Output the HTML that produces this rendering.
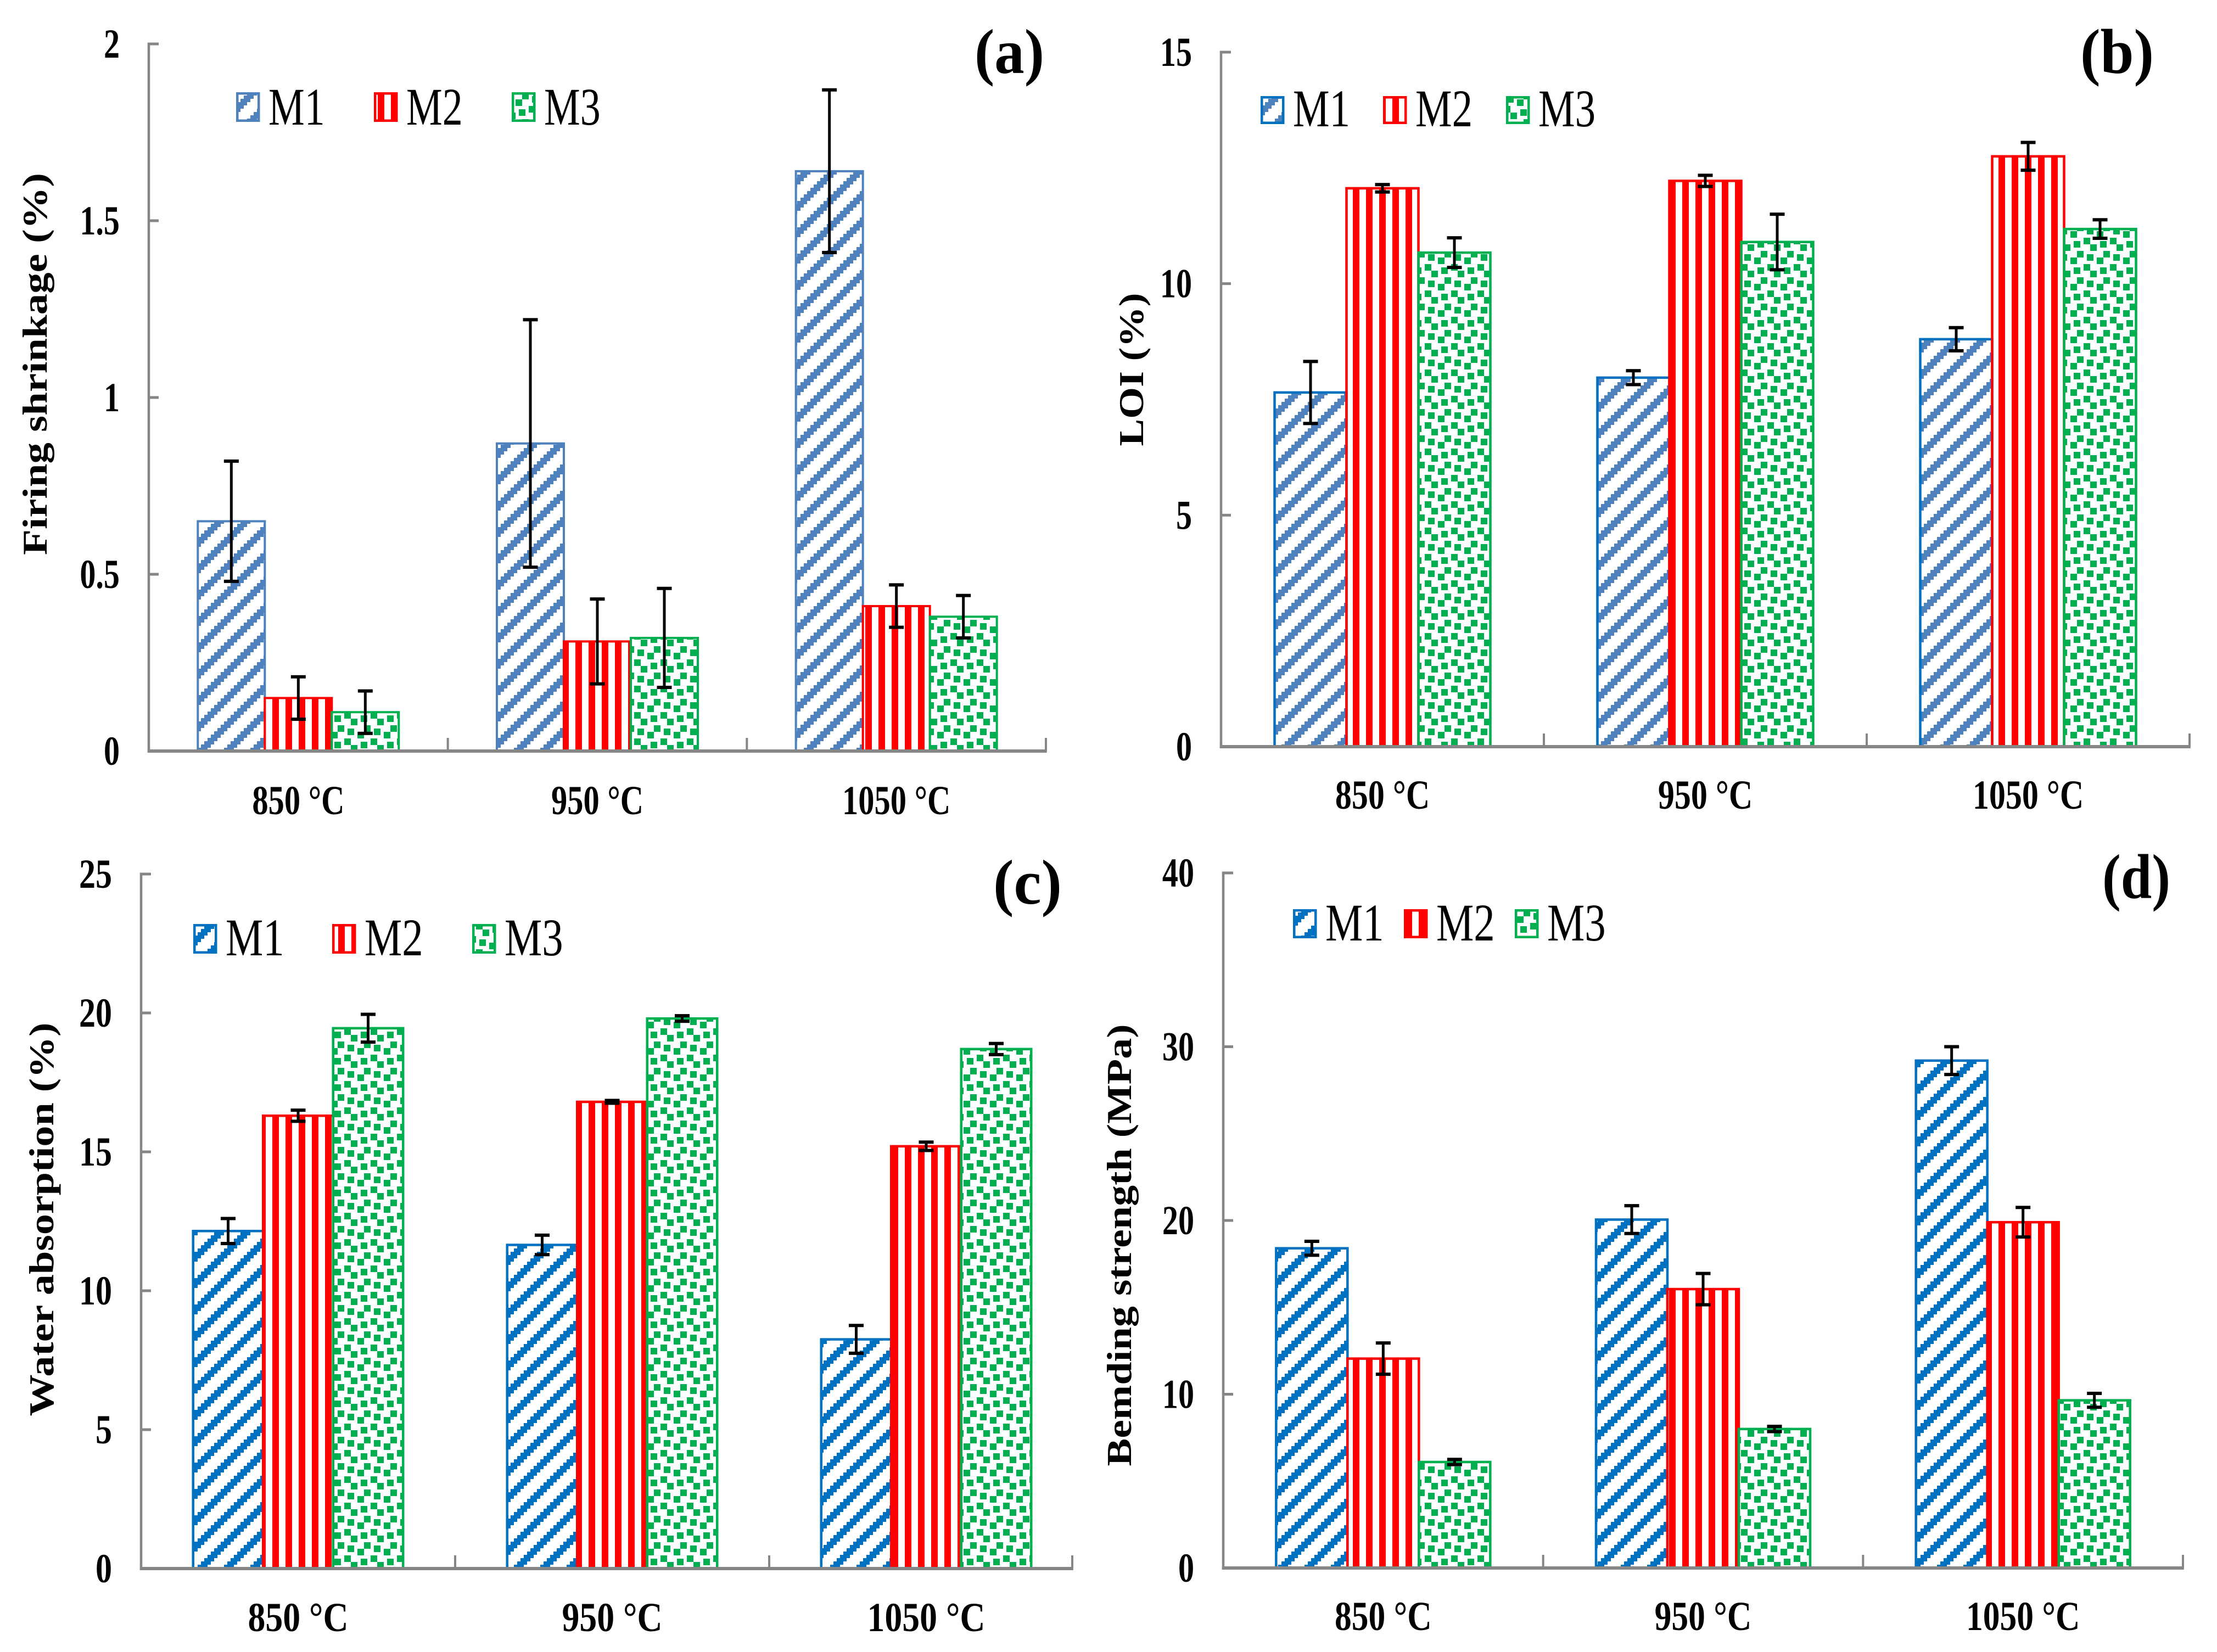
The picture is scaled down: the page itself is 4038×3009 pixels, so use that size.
<!DOCTYPE html>
<html lang="en">
<head>
<meta charset="utf-8">
<title>Ceramic properties by firing temperature</title>
<style>
html,body{margin:0;padding:0;background:#fff;}
svg{display:block;}
text{font-family:"Liberation Serif",serif;fill:#000;}
</style>
</head>
<body>
<svg id="figure" xmlns="http://www.w3.org/2000/svg" width="4038" height="3009" viewBox="0 0 4038 3009">
<rect x="0" y="0" width="4038" height="3009" fill="#fff"/>
<defs id="defs"></defs>
</svg>
<script>
// ---- shared categories / series ----
const categories = ['850 °C', '950 °C', '1050 °C'];
const seriesNames = ['M1', 'M2', 'M3'];

// ---- panel (a) Firing shrinkage ----
const shrinkageTicks = ['0', '0.5', '1', '1.5', '2'];
const shrinkageM1 = [0.65, 0.87, 1.64];
const shrinkageM2 = [0.15, 0.31, 0.41];
const shrinkageM3 = [0.11, 0.32, 0.38];
const shrinkageErrM1 = [0.17, 0.35, 0.23];
const shrinkageErrM2 = [0.06, 0.12, 0.06];
const shrinkageErrM3 = [0.06, 0.14, 0.06];

// ---- panel (b) LOI ----
const loiTicks = ['0', '5', '10', '15'];
const loiM1 = [7.65, 7.97, 8.8];
const loiM2 = [12.06, 12.22, 12.75];
const loiM3 = [10.67, 10.9, 11.18];
const loiErrM1 = [0.67, 0.15, 0.25];
const loiErrM2 = [0.08, 0.12, 0.3];
const loiErrM3 = [0.32, 0.6, 0.2];

// ---- panel (c) Water absorption ----
const waterTicks = ['0', '5', '10', '15', '20', '25'];
const waterM1 = [12.15, 11.65, 8.25];
const waterM2 = [16.3, 16.8, 15.2];
const waterM3 = [19.45, 19.8, 18.7];
const waterErrM1 = [0.45, 0.35, 0.5];
const waterErrM2 = [0.2, 0.05, 0.15];
const waterErrM3 = [0.5, 0.1, 0.2];

// ---- panel (d) Bending strength ----
const strengthTicks = ['0', '10', '20', '30', '40'];
const strengthM1 = [18.4, 20.05, 29.2];
const strengthM2 = [12.05, 16.05, 19.9];
const strengthM3 = [6.1, 8.0, 9.65];
const strengthErrM1 = [0.4, 0.8, 0.8];
const strengthErrM2 = [0.9, 0.9, 0.85];
const strengthErrM3 = [0.15, 0.15, 0.4];

const SVGNS = 'http://www.w3.org/2000/svg';
const svg = document.getElementById('figure');
const defs = document.getElementById('defs');
const GRAY = '#868686';
const RED = '#ff0000';
const GREEN = '#00b050';

function mk(tag, attrs, parent) {
  const n = document.createElementNS(SVGNS, tag);
  for (const k in attrs) n.setAttribute(k, attrs[k]);
  parent.appendChild(n);
  return n;
}

// ---- hatch patterns ----
function blueHatch(id, color) {
  const p = mk('pattern', {id: id, patternUnits: 'userSpaceOnUse', width: 48, height: 48}, defs);
  for (let i = 0; i < 8; i++) {
    for (let j = 0; j < 8; j++) {
      const m = (i + j) % 8;
      if (m === 7 || m === 0 || m === 1) {
        mk('rect', {x: i * 6, y: j * 6, width: 6, height: 6, fill: color, 'shape-rendering': 'crispEdges'}, p);
      }
    }
  }
}
blueHatch('hatch-steel', '#4f81bd');
blueHatch('hatch-blue', '#0070c0');

const stripes = mk('pattern', {id: 'hatch-red', patternUnits: 'userSpaceOnUse', x: 16, y: 0, width: 24, height: 24}, defs);
mk('rect', {x: 0, y: 0, width: 12, height: 24, fill: RED, 'shape-rendering': 'crispEdges'}, stripes);

const confetti = mk('pattern', {id: 'hatch-green', patternUnits: 'userSpaceOnUse', x: 15, y: 37, width: 48, height: 48}, defs);
[[0, 0], [30, 42], [18, 6], [42, 18], [24, 24], [6, 30]].forEach(function (c) {
  [-48, 0, 48].forEach(function (dx) {
    [-48, 0, 48].forEach(function (dy) {
      mk('rect', {x: c[0] + dx - 6, y: c[1] + dy - 6, width: 12, height: 12, fill: GREEN, 'shape-rendering': 'crispEdges'}, confetti);
    });
  });
});

// ---- panels ----
const panels = [
  {key: 'a', title: 'Firing shrinkage (%)', letter: '(a)', ticks: shrinkageTicks,
   values: [shrinkageM1, shrinkageM2, shrinkageM3], errors: [shrinkageErrM1, shrinkageErrM2, shrinkageErrM3],
   left: 271, right: 1905, axisEnd: 1905, top: 80, base: 1368, barW: 122, stroke: 4, m1Border: '#4f81bd', m1Fill: 'hatch-steel',
   titleX: 85, titleY: 663, titleLen: 696, letterX: 1775, letterY: 133, letterLen: 127,
   legX: {M1: 430, M2: 681, M3: 932}, legY: 168, legH: 54, legBase: 227, labelBase: 1483,
   legScale: 0.77, labelScale: 0.78, tickScale: 0.775},
  {key: 'b', title: 'LOI (%)', letter: '(b)', ticks: loiTicks,
   values: [loiM1, loiM2, loiM3], errors: [loiErrM1, loiErrM2, loiErrM3],
   left: 2224, right: 3988, axisEnd: 3988, top: 95, base: 1360, barW: 131, stroke: 4.5, m1Border: '#0070c0', m1Fill: 'hatch-steel',
   titleX: 2082, titleY: 673, titleLen: 279, letterX: 3789, letterY: 133, letterLen: 134,
   legX: {M1: 2296, M2: 2519, M3: 2743}, legY: 175, legH: 51, legBase: 230, labelBase: 1473,
   legScale: 0.78, labelScale: 0.8, tickScale: 0.775},
  {key: 'c', title: 'Water absorption (%)', letter: '(c)', ticks: waterTicks,
   values: [waterM1, waterM2, waterM3], errors: [waterErrM1, waterErrM2, waterErrM3],
   left: 257, right: 1973, axisEnd: 1953, top: 1592, base: 2857, barW: 127.5, stroke: 4.5, m1Border: '#0070c0', m1Fill: 'hatch-blue',
   titleX: 97, titleY: 2221, titleLen: 717, letterX: 1809, letterY: 1646, letterLen: 125,
   legX: {M1: 352, M2: 605, M3: 860}, legY: 1683, legH: 54, legBase: 1740, labelBase: 2971,
   legScale: 0.8, labelScale: 0.85, tickScale: 0.8},
  {key: 'd', title: 'Bemding strength (MPa)', letter: '(d)', ticks: strengthTicks,
   values: [strengthM1, strengthM2, strengthM3], errors: [strengthErrM1, strengthErrM2, strengthErrM3],
   left: 2228, right: 3976, axisEnd: 3976, top: 1590, base: 2856, barW: 130, stroke: 4.5, m1Border: '#0070c0', m1Fill: 'hatch-blue',
   titleX: 2060, titleY: 2268, titleLen: 805, letterX: 3829, letterY: 1636, letterLen: 124,
   legX: {M1: 2355, M2: 2557, M3: 2759}, legY: 1656, legH: 53, legBase: 1713, labelBase: 2969,
   legScale: 0.8, labelScale: 0.82, tickScale: 0.775}
];

panels.forEach(function (p) {
  const g = mk('g', {}, svg);
  
  

  const tickValues = p.ticks.map(Number);
  const yMax = tickValues[tickValues.length - 1];
  const yScale = function (v) { return p.base - (v / yMax) * (p.base - p.top); };
  const catW = (p.right - p.left) / categories.length;
  const catCenter = function (i) { return p.left + catW * (i + 0.5); };
  const barX = function (i, s) { return catCenter(i) + (s - 1.5) * p.barW; };

  // bars first so the axis sits on top of their lower edges
  const fills = [p.m1Fill, 'hatch-red', 'hatch-green'];
  const borders = [p.m1Border, RED, GREEN];
  p.values.forEach(function (vals, s) {
    vals.forEach(function (v, i) {
      const bar = mk('rect', {
        x: barX(i, s), y: yScale(v), width: p.barW, height: p.base - yScale(v),
        fill: 'url(#' + fills[s] + ')', stroke: borders[s], 'stroke-width': p.stroke
      }, g);
      
      
    });
  });

  // y axis + ticks
  const yAxis = mk('rect', {x: p.left - 2.25, y: p.top - 2.5, width: 4.5, height: p.base - p.top + 5, fill: GRAY}, g);
  
  
  p.ticks.forEach(function (label, i) {
    const y = yScale(tickValues[i]);
    if (i > 0) {
      const t = mk('rect', {x: p.left, y: y - 2.5, width: 18, height: 5, fill: GRAY}, g);
      
      
    }
    const lab = mk('text', {
      transform: 'translate(' + (p.left - 53) + ' ' + (y + 25) + ') scale(' + p.tickScale + ' 1)',
      'text-anchor': 'end', 'font-size': 75, 'font-weight': 'bold'
    }, g);
    lab.textContent = label;
    
    
  });

  // x axis + ticks + labels
  const xAxis = mk('rect', {x: p.left - 2.25, y: p.base - 3, width: p.axisEnd - p.left + 4, height: 6, fill: GRAY}, g);
  
  
  categories.forEach(function (c, i) {
    const tx = i === categories.length - 1 ? p.axisEnd : p.left + catW * (i + 1);
    const t = mk('rect', {x: tx - 2, y: p.base - 24, width: 4, height: 24, fill: GRAY}, g);
    
    
    const lab = mk('text', {
      transform: 'translate(' + catCenter(i) + ' ' + p.labelBase + ') scale(' + p.labelScale + ' 1)',
      'text-anchor': 'middle', 'font-size': 75, 'font-weight': 'bold'
    }, g);
    lab.textContent = c;
    
    
  });

  // error bars
  p.errors.forEach(function (errs, s) {
    errs.forEach(function (e, i) {
      const cx = barX(i, s) + p.barW / 2;
      const hi = yScale(p.values[s][i] + e);
      const lo = yScale(p.values[s][i] - e);
      const eg = mk('g', {fill: '#000'}, g);
      
      
      mk('rect', {x: cx - 2.5, y: hi, width: 5, height: lo - hi}, eg);
      mk('rect', {x: cx - 13.5, y: hi - 3, width: 27, height: 6}, eg);
      mk('rect', {x: cx - 13.5, y: lo - 3, width: 27, height: 6}, eg);
    });
  });

  // legend
  seriesNames.forEach(function (name, s) {
    const lg = mk('g', {}, g);
    
    
    const sx = p.legX[name];
    mk('rect', {
      x: sx + 2.25, y: p.legY + 2.25, width: 39, height: p.legH - 4.5,
      fill: 'url(#' + fills[s] + ')', stroke: borders[s], 'stroke-width': 4.5
    }, lg);
    const lt = mk('text', {
      transform: 'translate(' + (sx + 59) + ' ' + p.legBase + ') scale(' + p.legScale + ' 1)',
      'font-size': 96
    }, lg);
    lt.textContent = name;
  });

  // axis title
  const title = mk('text', {
    transform: 'translate(' + p.titleX + ' ' + p.titleY + ') rotate(-90)',
    'text-anchor': 'middle', 'font-size': 64, 'font-weight': 'bold',
    textLength: p.titleLen, lengthAdjust: 'spacingAndGlyphs'
  }, g);
  title.textContent = p.title;
  
  

  // panel letter
  const letter = mk('text', {
    x: p.letterX, y: p.letterY, 'font-size': 115, 'font-weight': 'bold',
    textLength: p.letterLen, lengthAdjust: 'spacingAndGlyphs'
  }, g);
  letter.textContent = p.letter;
  
  
});
</script>
</body>
</html>
